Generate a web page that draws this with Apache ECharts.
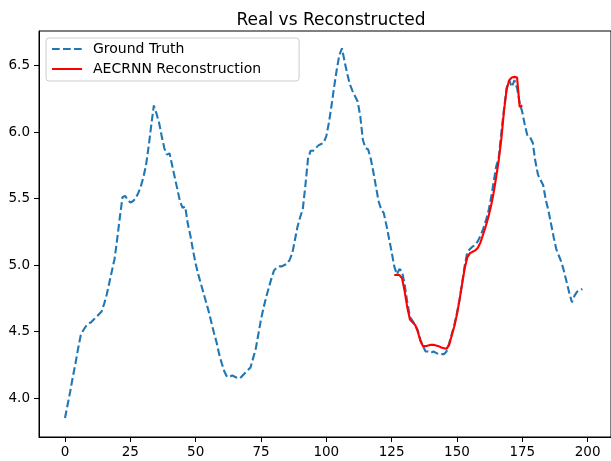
<!DOCTYPE html>
<html>
<head>
<meta charset="utf-8">
<script src="https://cdn.jsdelivr.net/npm/echarts@6/dist/echarts.min.js"></script>
<style>
  html, body { margin: 0; padding: 0; background: #fff; }
  #chart { width: 611px; height: 461px; }
</style>
</head>
<body>
<div id="chart"></div>
<script>
// ground truth, one value per step starting at 0
const groundTruth = [
  3.85, 3.95, 4.05, 4.16, 4.26, 4.37, 4.47, 4.51, 4.54, 4.56,
  4.57, 4.59, 4.61, 4.63, 4.65, 4.71, 4.78, 4.87, 4.96, 5.05,
  5.20, 5.36, 5.51, 5.52, 5.49, 5.47, 5.48, 5.50, 5.54, 5.59,
  5.66, 5.75, 5.89, 6.05, 6.20, 6.14, 6.07, 5.97, 5.88, 5.83,
  5.84, 5.75, 5.66, 5.57, 5.48, 5.43, 5.44, 5.31, 5.22, 5.11,
  5.01, 4.93, 4.86, 4.79, 4.72, 4.65, 4.57, 4.49, 4.42, 4.33,
  4.26, 4.20, 4.16, 4.16, 4.17, 4.16, 4.15, 4.15, 4.17, 4.19,
  4.21, 4.23, 4.30, 4.37, 4.48, 4.59, 4.68, 4.76, 4.83, 4.90,
  4.96, 4.98, 4.99, 4.99, 5.00, 5.01, 5.04, 5.09, 5.19, 5.29,
  5.36, 5.42, 5.60, 5.80, 5.86, 5.86, 5.88, 5.90, 5.91, 5.92,
  5.97, 6.07, 6.20, 6.34, 6.47, 6.58, 6.63, 6.53, 6.44, 6.36,
  6.31, 6.27, 6.23, 6.12, 5.94, 5.88, 5.87, 5.80, 5.70, 5.59,
  5.48, 5.42, 5.39, 5.30, 5.20, 5.10, 4.99, 4.93, 4.97, 4.95,
  4.85, 4.72, 4.61, 4.58, 4.55, 4.51, 4.44, 4.39, 4.35, 4.35,
  4.34, 4.35, 4.34, 4.33, 4.33, 4.33, 4.35, 4.41, 4.48, 4.55,
  4.64, 4.74, 4.87, 5.00, 5.10, 5.12, 5.14, 5.15, 5.18, 5.22,
  5.27, 5.33, 5.40, 5.50, 5.62, 5.74, 5.81, 6.00, 6.17, 6.33,
  6.39, 6.34, 6.39, 6.33, 6.22, 6.15, 6.05, 5.97, 5.96, 5.92,
  5.78, 5.68, 5.64, 5.60, 5.49, 5.41, 5.31, 5.21, 5.12, 5.07,
  5.02, 4.95, 4.87, 4.79, 4.72, 4.77, 4.80, 4.81, 4.82
]

// reconstruction covers steps 126..175
const reconStart = 126
const reconstruction = [
  4.925, 4.925, 4.925, 4.90, 4.80, 4.68, 4.59, 4.57, 4.55, 4.50,
  4.43, 4.39, 4.39, 4.395, 4.40, 4.40, 4.395, 4.39, 4.38, 4.375,
  4.37, 4.40, 4.47, 4.54, 4.63, 4.74, 4.86, 4.98, 5.06, 5.09,
  5.10, 5.11, 5.13, 5.17, 5.23, 5.29, 5.36, 5.44, 5.54, 5.66,
  5.79, 5.95, 6.16, 6.32, 6.39, 6.41, 6.415, 6.41, 6.19, 6.20
]

const xTicks = [0, 25, 50, 75, 100, 125, 150, 175, 200]
const yTicks = [4.0, 4.5, 5.0, 5.5, 6.0, 6.5]

const chart = echarts.init(document.getElementById('chart'))
const font = 'DejaVu Sans'

const option = {
  animation: false,
  backgroundColor: '#fff',
  title: {
    text: 'Real vs Reconstructed',
    left: 326,
    textAlign: 'center',
    top: 7,
    textStyle: { fontFamily: font, fontSize: 17, fontWeight: 'normal', color: '#000' }
  },
  legend: {
    orient: 'vertical',
    left: 46,
    top: 38,
    padding: [4, 38, 5, 5],
    itemGap: 6,
    itemWidth: 30,
    itemHeight: 10,
    borderColor: '#cccccc',
    borderWidth: 1,
    borderRadius: 3,
    backgroundColor: 'rgba(255,255,255,0.8)',
    itemStyle: { opacity: 0 },
    textStyle: { fontFamily: font, fontSize: 14, color: '#000', padding: [0, 0, 0, 6] },
    data: ['Ground Truth', 'AECRNN Reconstruction']
  },
  grid: {
    left: 39, top: 31, right: -5, bottom: 24,
    show: true, borderColor: '#000', borderWidth: 1
  },
  xAxis: {
    type: 'value',
    min: -9.95,
    max: 208.95,
    splitLine: { show: false },
    axisLine: { onZero: false, lineStyle: { color: '#000' } },
    axisTick: { length: 5, lineStyle: { color: '#000' }, customValues: xTicks },
    axisLabel: {
      customValues: xTicks,
      fontFamily: font, fontSize: 13.5, color: '#000', margin: 8
    }
  },
  yAxis: {
    type: 'value',
    min: 3.707,
    max: 6.76,
    splitLine: { show: false },
    axisLine: { show: true, onZero: false, lineStyle: { color: '#000' } },
    axisTick: { show: true, length: 5, lineStyle: { color: '#000' }, customValues: yTicks },
    axisLabel: {
      customValues: yTicks,
      formatter: v => v.toFixed(1),
      fontFamily: font, fontSize: 13.5, color: '#000', margin: 9
    }
  },
  series: [
    {
      name: 'Ground Truth',
      type: 'line',
      symbol: 'none',
      color: '#1f77b4',
      lineStyle: { width: 2.1, type: [7.7, 3.3], color: '#1f77b4' },
      data: groundTruth.map((v, i) => [i, v])
    },
    {
      name: 'AECRNN Reconstruction',
      type: 'line',
      symbol: 'none',
      color: '#ff0000',
      lineStyle: { width: 2.1, color: '#ff0000' },
      data: reconstruction.map((v, i) => [reconStart + i, v])
    }
  ]
}

chart.setOption(option)
</script>
</body>
</html>
